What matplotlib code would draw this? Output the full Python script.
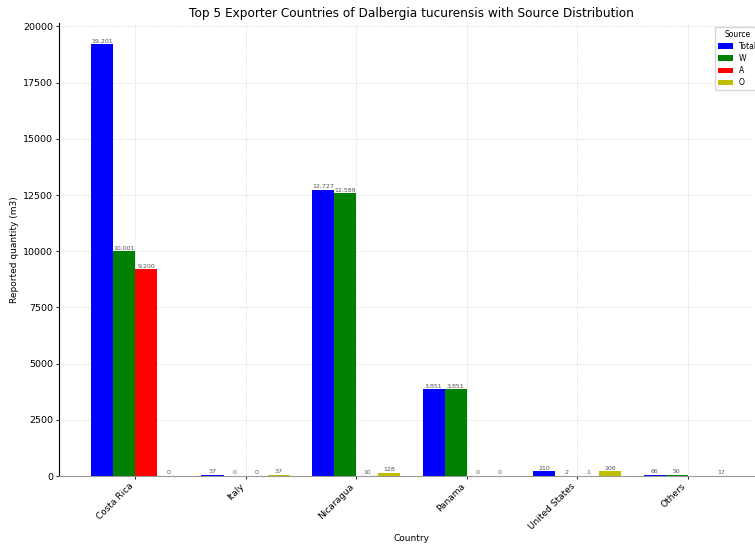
import matplotlib
matplotlib.use("Agg")
import matplotlib.pyplot as plt
import numpy as np

countries = ["Costa Rica", "Italy", "Nicaragua", "Panama", "United States", "Others"]
sources = ["Total", "W", "A", "O"]
total = [19201, 37, 12727, 3851, 210, 66]
wild = [10001, 0, 12589, 3851, 2, 50]
artificial = [9200, 0, 10, 0, 1, np.nan]
other = [0, 37, 128, 0, 206, 17]
colors = ["b", "g", "r", "y"]

series = [total, wild, artificial, other]

fig = plt.figure(figsize=(7.55, 5.44), dpi=100)
ax = fig.add_axes([0.078, 0.125, 0.934, 0.833])

x = np.arange(len(countries))
width = 0.2
for i, (name, vals, col) in enumerate(zip(sources, series, colors)):
    bars = ax.bar(x + (i - 1.5) * width, vals, width, label=name, color=col)
    ax.bar_label(bars, fmt="{:,.0f}", fontsize=4.5, color="#555555", padding=0.5)

ax.set_xticks(x)
ax.set_xticklabels(countries, rotation=45, ha="right", fontsize=6.5)
ax.set_yticks(np.arange(0, 20001, 2500))
ax.tick_params(axis="both", length=2, width=0.6, pad=2)
ax.tick_params(axis="y", labelsize=6.8)
ax.set_xlabel("Country", fontsize=6.5, labelpad=2)
ax.set_ylabel("Reported quantity (m3)", fontsize=6.5, labelpad=3)
ax.set_title("Top 5 Exporter Countries of Dalbergia tucurensis with Source Distribution",
             fontsize=8.7, pad=4)

ax.grid(True, linestyle=":", color="#d0d0d0", linewidth=0.6)
ax.set_axisbelow(True)
ax.spines["top"].set_visible(False)
ax.spines["right"].set_visible(False)
ax.spines["left"].set_linewidth(0.8)
ax.spines["bottom"].set_color("#999999")

ax.legend(title="Source", loc="upper right", fontsize=5.5, title_fontsize=5.5,
          labelspacing=0.4)

fig.savefig("out.png", dpi=100)
